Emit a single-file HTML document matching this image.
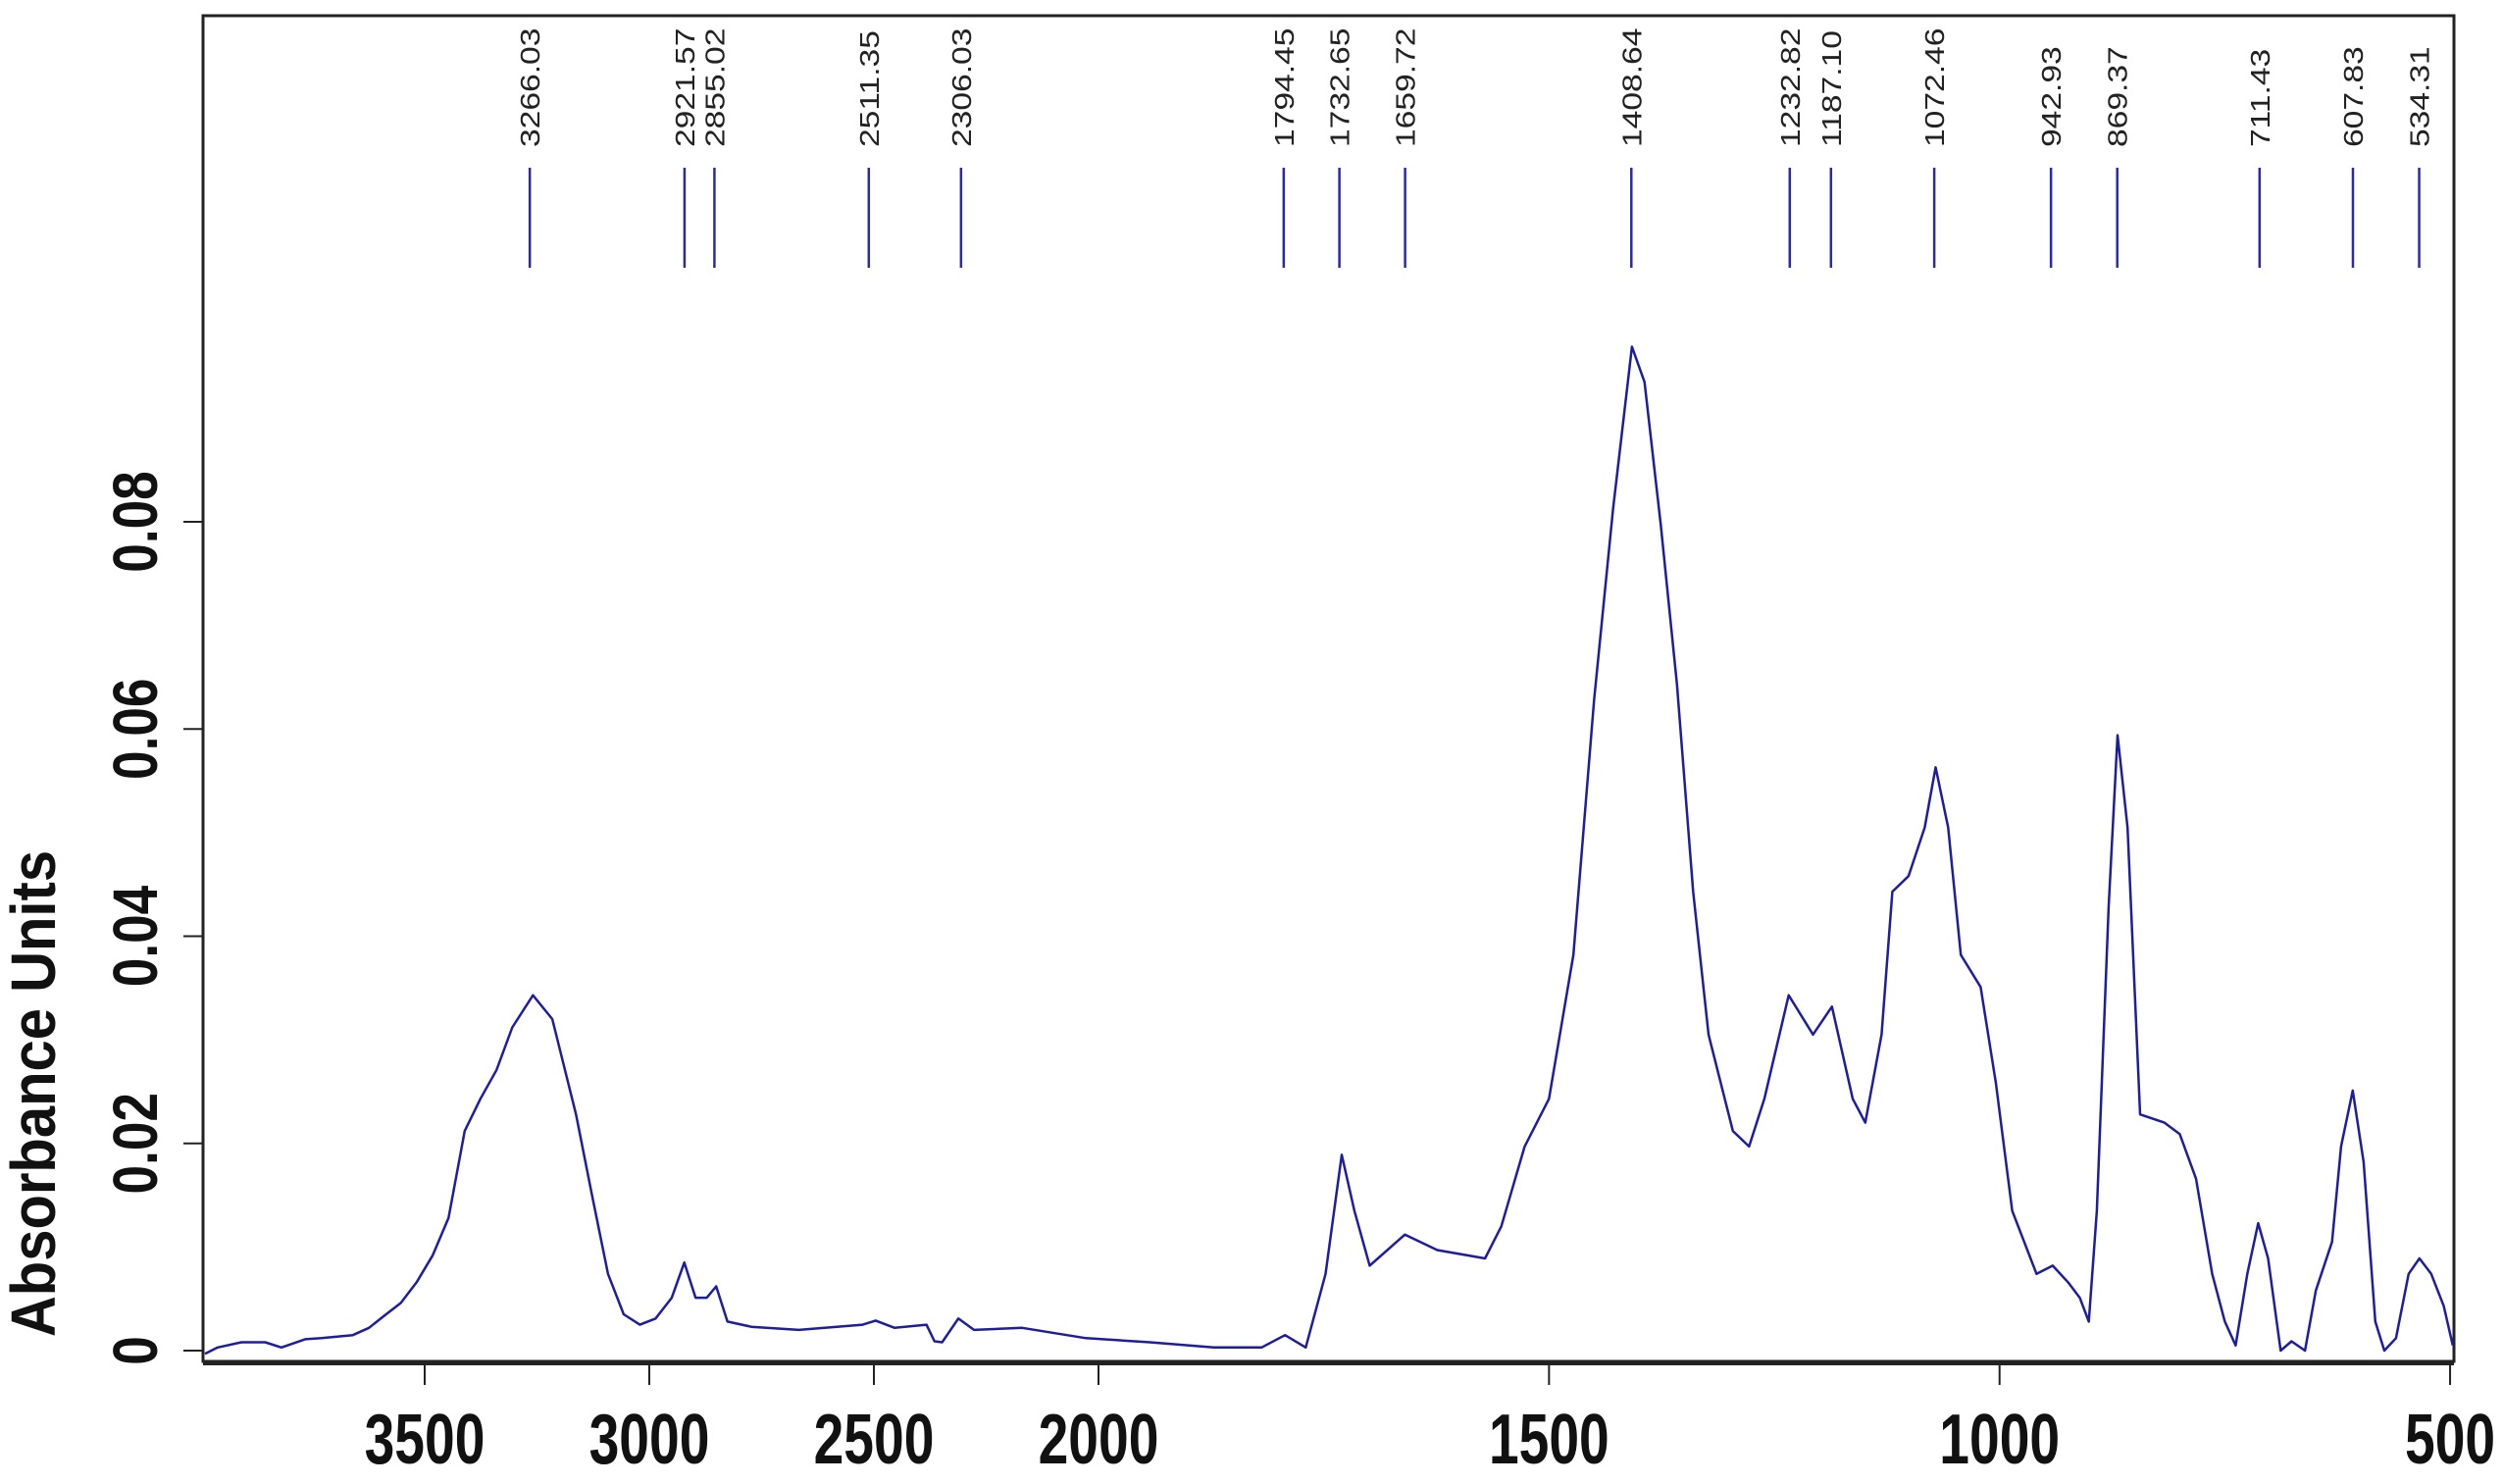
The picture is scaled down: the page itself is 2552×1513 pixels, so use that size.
<!DOCTYPE html>
<html><head><meta charset="utf-8"><title>IR Spectrum</title>
<style>html,body{margin:0;padding:0;background:#fff}svg{display:block}text{font-family:"Liberation Sans",sans-serif}</style>
</head><body>
<svg id="chart" width="2552" height="1513" viewBox="0 0 2552 1513" xmlns="http://www.w3.org/2000/svg">
<rect x="207" y="16" width="2295" height="1372" fill="none" stroke="#222" stroke-width="3"/>
<text transform="translate(56,1115) rotate(-90) scale(1,1.1)" text-anchor="middle" font-size="58" font-weight="bold" fill="#111">Absorbance Units</text>
<g id="xaxis"></g>
<g id="yaxis"></g>
<g id="peaks"></g>
<g id="series"></g>
</svg>
<script>
const xTicks = [3500, 3000, 2500, 2000, 1500, 1000, 500];
const yTicks = [0, 0.02, 0.04, 0.06, 0.08];
const yTickLabels = ["0", "0.02", "0.04", "0.06", "0.08"];
const peakPositions = [3266.03, 2921.57, 2855.02, 2511.35, 2306.03, 1794.45, 1732.65, 1659.72, 1408.64, 1232.82, 1187.10, 1072.46, 942.93, 869.37, 711.43, 607.83, 534.31];
const peakLabels = ["3266.03","2921.57","2855.02","2511.35","2306.03","1794.45","1732.65","1659.72","1408.64","1232.82","1187.10","1072.46","942.93","869.37","711.43","607.83","534.31"];
const wavenumbers = [3989,3961,3908,3855,3819,3766,3730,3660,3624,3589,3553,3518,3482,3447,3411,3376,3340,3305,3259,3216,3163,3128,3092,3057,3021,2986,2950,2922,2897,2872,2851,2826,2773,2667,2525,2496,2454,2383,2365,2348,2312,2277,2170,2028,1943,1872,1819,1793,1770,1748,1730,1716,1699,1660,1624,1571,1553,1527,1500,1473,1450,1429,1408,1394,1376,1358,1340,1323,1296,1278,1261,1234,1207,1186,1163,1149,1131,1119,1101,1083,1071,1057,1043,1021,1004,986,959,941,924,911,901,892,879,869,858,844,817,800,782,764,750,738,725,713,702,688,676,661,649,631,621,608,596,583,573,560,546,534,521,507,497];
const absorbance = [-0.0003,0.0003,0.0008,0.0008,0.0003,0.0011,0.0012,0.0015,0.0022,0.0034,0.0046,0.0066,0.0092,0.0128,0.0212,0.0243,0.0271,0.0312,0.0343,0.0320,0.0228,0.0151,0.0074,0.0035,0.0025,0.0031,0.0051,0.0085,0.0051,0.0051,0.0062,0.0028,0.0023,0.0020,0.0025,0.0029,0.0022,0.0025,0.0009,0.0008,0.0031,0.0020,0.0022,0.0012,0.0008,0.0003,0.0003,0.0015,0.0003,0.0074,0.0189,0.0135,0.0082,0.0112,0.0097,0.0089,0.0120,0.0197,0.0243,0.0382,0.0628,0.0812,0.0969,0.0935,0.0797,0.0643,0.0443,0.0305,0.0212,0.0197,0.0243,0.0343,0.0305,0.0332,0.0243,0.0220,0.0305,0.0443,0.0458,0.0505,0.0563,0.0505,0.0382,0.0351,0.0258,0.0135,0.0074,0.0082,0.0066,0.0051,0.0028,0.0135,0.0428,0.0594,0.0505,0.0228,0.0220,0.0209,0.0166,0.0074,0.0028,0.0005,0.0074,0.0123,0.0089,0.0000,0.0009,0.0000,0.0058,0.0105,0.0197,0.0251,0.0182,0.0028,0.0000,0.0012,0.0074,0.0089,0.0074,0.0043,0.0005];

const NS = "http://www.w3.org/2000/svg";
function xScale(w){ return w <= 2000 ? 1120 + (2000 - w) * 0.9187 : 1120 - (w - 2000) * 0.458; }
function yScale(a){ return 1377 - a * 10562.5; }
function mk(tag, attrs, parent){ const e = document.createElementNS(NS, tag); for (const k in attrs) e.setAttribute(k, attrs[k]); parent.appendChild(e); return e; }

const xa = document.getElementById('xaxis');
mk('line', {x1:207, x2:2502, y1:1390, y2:1390, stroke:'#222', 'stroke-width':4}, xa);
xTicks.forEach(t => {
  const x = xScale(t);
  const tk = mk('line', {x1:x, x2:x, y1:1390, y2:1412, stroke:'#222', 'stroke-width':2}, xa);
  
  
  const lb = mk('text', {transform:`translate(${x},1492) scale(0.92,1.2)`, 'text-anchor':'middle', 'font-size':60, 'font-weight':'bold', fill:'#111'}, xa);
  lb.textContent = t;
  
  
});

const ya = document.getElementById('yaxis');
yTicks.forEach((t, i) => {
  const y = yScale(t);
  const tk = mk('line', {x1:187, x2:207, y1:y, y2:y, stroke:'#222', 'stroke-width':2}, ya);
  
  
  const lb = mk('text', {transform:`translate(160,${y}) rotate(-90) scale(0.95,1.15)`, 'text-anchor':'middle', 'font-size':56, 'font-weight':'bold', fill:'#111'}, ya);
  lb.textContent = yTickLabels[i];
  
  
});

const pk = document.getElementById('peaks');
peakPositions.forEach((p, i) => {
  const x = xScale(p);
  const ln = mk('line', {x1:x, x2:x, y1:171, y2:273, stroke:'#2a2aa8', 'stroke-width':2.5}, pk);
  
  
  const lb = mk('text', {transform:`translate(${x+10},150) rotate(-90) scale(1.2,1)`, 'text-anchor':'start', 'font-size':28, fill:'#222'}, pk);
  lb.textContent = peakLabels[i];
  
  
});

const sg = document.getElementById('series');
let d = '';
wavenumbers.forEach((w, i) => { d += (i ? 'L' : 'M') + xScale(w).toFixed(1) + ' ' + yScale(absorbance[i]).toFixed(1); });
const path = mk('path', {d:d, fill:'none', stroke:'#1e1e9c', 'stroke-width':2.5, 'stroke-linejoin':'round'}, sg);


</script>
</body></html>
